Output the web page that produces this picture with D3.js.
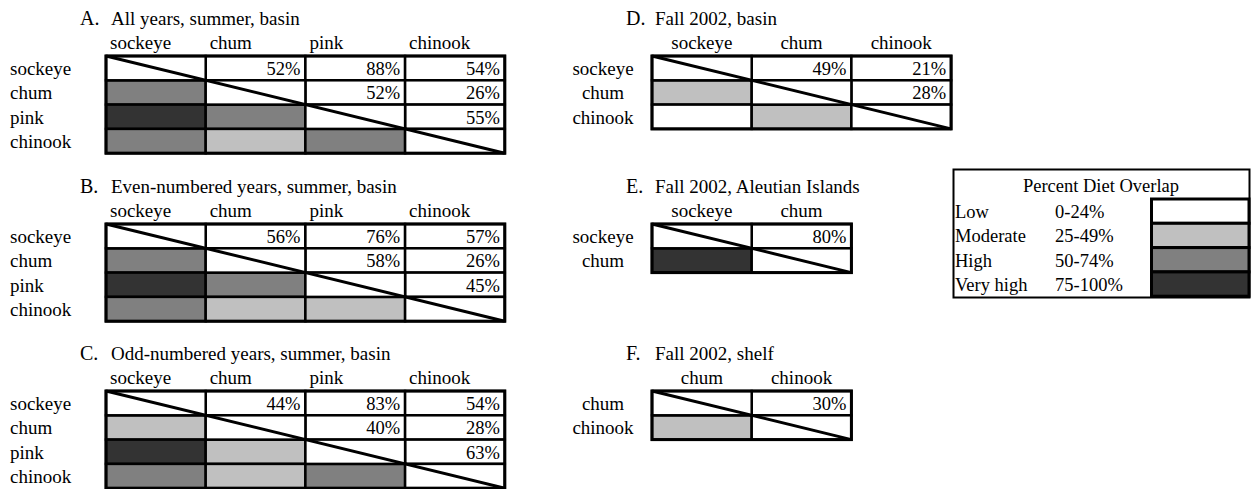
<!DOCTYPE html>
<html>
<head>
<meta charset="utf-8">
<script src="https://cdn.jsdelivr.net/npm/d3@7"></script>
<style>
  body { margin: 0; background: #fff; }
</style>
</head>
<body>
<svg width="1251" height="489"></svg>
<script>
// species in each panel
const speciesAll = ["sockeye", "chum", "pink", "chinook"];
const speciesD = ["sockeye", "chum", "chinook"];
const speciesE = ["sockeye", "chum"];
const speciesF = ["chum", "chinook"];

// upper triangle, row by row (row i, col j > i)
const overlapA = [52, 88, 54, 52, 26, 55];
const overlapB = [56, 76, 57, 58, 26, 45];
const overlapC = [44, 83, 54, 40, 28, 63];
const overlapD = [49, 21, 28];
const overlapE = [80];
const overlapF = [30];

const panelLetters = ["A.", "B.", "C.", "D.", "E.", "F."];
const panelTitles = [
  "All years, summer, basin",
  "Even-numbered years, summer, basin",
  "Odd-numbered years, summer, basin",
  "Fall 2002, basin",
  "Fall 2002, Aleutian Islands",
  "Fall 2002, shelf"
];

const legendLevels = ["Low", "Moderate", "High", "Very high"];
const legendRanges = ["0-24%", "25-49%", "50-74%", "75-100%"];
const levelBreaks = [25, 50, 75];
const levelColors = ["#ffffff", "#c0c0c0", "#808080", "#333333"];

const police = "'Liberation Serif', 'DejaVu Serif', serif";

const svg = d3.select("svg")
  .attr("font-family", police);

const colW = 99.7;
const rowH = 24.3;

const couleur = d3.scaleThreshold().domain(levelBreaks).range(levelColors);

// layout of each panel (left column vs right column)
const panels = [
  { species: speciesAll, values: overlapA, x: 106, y: 56, side: "left" },
  { species: speciesAll, values: overlapB, x: 106, y: 224, side: "left" },
  { species: speciesAll, values: overlapC, x: 106, y: 391, side: "left" },
  { species: speciesD, values: overlapD, x: 652, y: 56, side: "right" },
  { species: speciesE, values: overlapE, x: 652, y: 224, side: "right" },
  { species: speciesF, values: overlapF, x: 652, y: 391, side: "right" }
];

function texte(sel, size) {
  return sel.attr("font-family", police).attr("font-size", size).attr("fill", "#000");
}

panels.forEach((p, k) => {
  const n = p.species.length;
  const xs = d3.scaleBand().domain(p.species).range([p.x, p.x + n * colW]);
  const ys = d3.scaleBand().domain(p.species).range([p.y, p.y + n * rowH]);

  // turn the triangle list into cells
  const cells = [];
  let idx = 0;
  for (let i = 0; i < n; i++) {
    for (let j = i + 1; j < n; j++) {
      const v = p.values[idx++];
      cells.push({ r: p.species[i], c: p.species[j], v: v, upper: true });
      cells.push({ r: p.species[j], c: p.species[i], v: v, upper: false });
    }
  }
  p.species.forEach(s => cells.push({ r: s, c: s, v: null, upper: true }));

  const g = svg.append("g");

  const letterX = p.side === "left" ? 80 : 626;
  const titleX = p.side === "left" ? 111 : 655;
  texte(g.append("text"), 20)
    .attr("x", letterX).attr("y", p.y - 31)
    .text(panelLetters[k]);
  texte(g.append("text"), 19)
    .attr("x", titleX).attr("y", p.y - 31)
    .text(panelTitles[k]);

  // column headers
  texte(g.selectAll(".col").data(p.species).join("text"), 19)
    .attr("x", d => p.side === "left" ? xs(d) + 4 : xs(d) + xs.bandwidth() / 2)
    .attr("y", p.y - 7)
    .attr("text-anchor", p.side === "left" ? "start" : "middle")
    .text(d => d);

  // row labels
  texte(g.selectAll(".row").data(p.species).join("text"), 19)
    .attr("x", p.side === "left" ? 10 : 603)
    .attr("y", d => ys(d) + 19)
    .attr("text-anchor", p.side === "left" ? "start" : "middle")
    .text(d => d);

  g.selectAll("rect.cell").data(cells).join("rect")
    .attr("class", "cell")
    .attr("x", d => xs(d.c))
    .attr("y", d => ys(d.r))
    .attr("width", xs.bandwidth())
    .attr("height", ys.bandwidth())
    .attr("fill", d => d.upper ? "#fff" : couleur(d.v))
    .attr("stroke", "#000")
    .attr("stroke-width", 2.5);

  texte(g.selectAll("text.pct").data(cells.filter(d => d.upper && d.v !== null)).join("text"), 18.5)
    .attr("class", "pct")
    .attr("x", d => xs(d.c) + xs.bandwidth() - 5)
    .attr("y", d => ys(d.r) + 19)
    .attr("text-anchor", "end")
    .text(d => d.v + "%");

  const [x0, x1] = xs.range();
  const [y0, y1] = ys.range();
  g.append("rect")
    .attr("x", x0).attr("y", y0)
    .attr("width", x1 - x0).attr("height", y1 - y0)
    .attr("fill", "none")
    .attr("stroke", "#000")
    .attr("stroke-width", 3);

  // diagonal across the whole grid
  g.append("line")
    .attr("x1", x0).attr("y1", y0)
    .attr("x2", x1).attr("y2", y1)
    .attr("stroke", "#000")
    .attr("stroke-width", 3);
});

// legend
const leg = svg.append("g");
const legY = d3.scaleBand().domain(legendLevels).range([199, 199 + 4 * rowH]);

leg.append("rect")
  .attr("x", 953.5).attr("y", 169.5)
  .attr("width", 296).attr("height", 128)
  .attr("fill", "none")
  .attr("stroke", "#000")
  .attr("stroke-width", 2);

texte(leg.append("text"), 18.5)
  .attr("x", 1101).attr("y", 192)
  .attr("text-anchor", "middle")
  .text("Percent Diet Overlap");

texte(leg.selectAll(".lvl").data(legendLevels).join("text"), 18.5)
  .attr("x", 955)
  .attr("y", d => legY(d) + 19)
  .text(d => d);

texte(leg.selectAll(".rng").data(legendRanges).join("text"), 18.5)
  .attr("x", 1055)
  .attr("y", (d, i) => legY(legendLevels[i]) + 19)
  .text(d => d);

leg.selectAll("rect.sw").data(legendLevels).join("rect")
  .attr("class", "sw")
  .attr("x", 1151.5)
  .attr("y", d => legY(d))
  .attr("width", 97.5)
  .attr("height", legY.bandwidth())
  .attr("fill", (d, i) => levelColors[i])
  .attr("stroke", "#000")
  .attr("stroke-width", 3);
</script>
</body>
</html>
